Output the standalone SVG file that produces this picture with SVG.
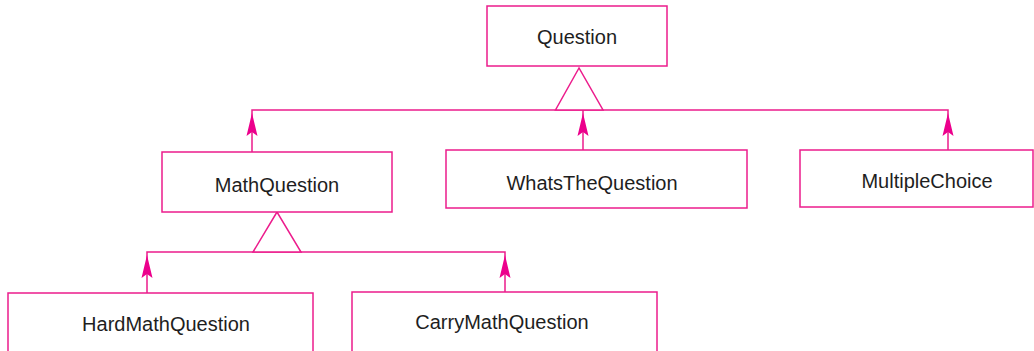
<svg xmlns="http://www.w3.org/2000/svg" width="1034" height="351" viewBox="0 0 1034 351">
  <style>
    .box { fill: #ffffff; stroke: #ec1c8c; stroke-width: 1.5; }
    .line { fill: none; stroke: #ec1c8c; stroke-width: 1.5; }
    .tri { fill: #ffffff; stroke: #ec1c8c; stroke-width: 1.5; }
    .head { fill: #ec008c; }
    .label { font-family: "Liberation Sans", Arial, sans-serif; font-size: 20px; fill: #1e1e1e; text-anchor: middle; }
  </style>
  <defs>
    <!-- barbed inheritance arrowhead, tip at origin pointing up -->
    <path id="head" class="head" d="M0,0 L5.5,23 L0,19 L-5.5,23 Z"/>
  </defs>
  <rect width="1034" height="351" fill="#ffffff"/>

  <g id="connectors">
    <!-- top generalization bus -->
    <polyline class="line" points="252,152 252,110 948,110 948,150"/>
    <line class="line" x1="583" y1="110" x2="583" y2="150"/>
    <polygon class="tri" points="579,68 555.5,110 603,110"/>
    <!-- second generalization bus -->
    <polyline class="line" points="147,293 147,252 505,252 505,292"/>
    <polygon class="tri" points="277,212 253,252 301,252"/>
    <!-- arrowheads -->
    <use href="#head" x="252" y="113"/>
    <use href="#head" x="583" y="113"/>
    <use href="#head" x="948" y="113"/>
    <use href="#head" x="147" y="255"/>
    <use href="#head" x="505" y="255"/>
  </g>

  <g id="question">
    <rect class="box" x="487" y="6" width="180" height="60"/>
    <text class="label" x="577" y="44">Question</text>
  </g>
  <g id="mathquestion">
    <rect class="box" x="162" y="152" width="230" height="60"/>
    <text class="label" x="277" y="192">MathQuestion</text>
  </g>
  <g id="whatsthequestion">
    <rect class="box" x="446" y="150" width="301" height="58"/>
    <text class="label" x="592" y="190">WhatsTheQuestion</text>
  </g>
  <g id="multiplechoice">
    <rect class="box" x="800" y="150" width="233" height="57"/>
    <text class="label" x="927" y="188">MultipleChoice</text>
  </g>
  <g id="hardmathquestion">
    <rect class="box" x="8" y="293" width="305" height="70"/>
    <text class="label" x="166" y="331">HardMathQuestion</text>
  </g>
  <g id="carrymathquestion">
    <rect class="box" x="352" y="292" width="305" height="70"/>
    <text class="label" x="502" y="329">CarryMathQuestion</text>
  </g>
</svg>
